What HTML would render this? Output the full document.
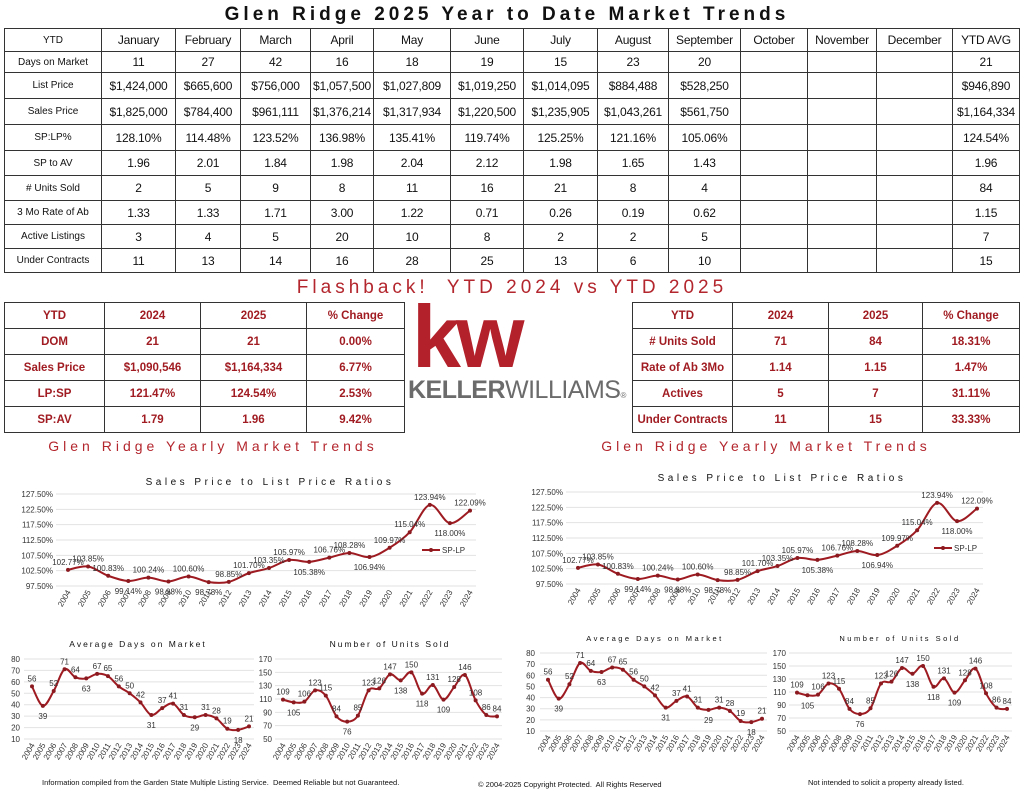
<!DOCTYPE html>
<html><head><meta charset="utf-8">
<style>
*{margin:0;padding:0;box-sizing:border-box}
body{width:1024px;height:791px;background:#fff;position:relative;overflow:hidden;font-family:"Liberation Sans",sans-serif;color:#111}
.abs{position:absolute}
table{border-collapse:collapse;position:absolute;table-layout:fixed}
td{border:1.5px solid #333;text-align:center;font-size:12px;padding:0;white-space:nowrap;overflow:hidden}
#top td{font-size:12px;letter-spacing:-0.2px}
#top td:first-child{font-size:10px;letter-spacing:0}
.red td{color:#a01c22;font-weight:bold;font-size:11.5px}
.title{font-size:19px;letter-spacing:4px;font-weight:bold;text-align:center}
.rt{color:#b3262d;letter-spacing:4px;text-align:center}
</style></head><body>
<div class="abs title" style="left:0;top:4px;width:1014px">Glen Ridge 2025 Year to Date Market Trends</div>

<table id="top" style="left:4px;top:28px;width:1015px">
<colgroup><col style="width:97px"><col style="width:74px"><col style="width:65px"><col style="width:70px"><col style="width:63px"><col style="width:77px"><col style="width:73px"><col style="width:74px"><col style="width:71px"><col style="width:72px"><col style="width:67px"><col style="width:69px"><col style="width:76px"><col style="width:67px"></colgroup>
<tr style="height:23px"><td>YTD</td><td>January</td><td>February</td><td>March</td><td>April</td><td>May</td><td>June</td><td>July</td><td>August</td><td>September</td><td>October</td><td>November</td><td>December</td><td>YTD AVG</td></tr>
<tr style="height:21px"><td>Days on Market</td><td>11</td><td>27</td><td>42</td><td>16</td><td>18</td><td>19</td><td>15</td><td>23</td><td>20</td><td></td><td></td><td></td><td>21</td></tr>
<tr style="height:26px"><td>List Price</td><td>$1,424,000</td><td>$665,600</td><td>$756,000</td><td>$1,057,500</td><td>$1,027,809</td><td>$1,019,250</td><td>$1,014,095</td><td>$884,488</td><td>$528,250</td><td></td><td></td><td></td><td>$946,890</td></tr>
<tr style="height:26px"><td>Sales Price</td><td>$1,825,000</td><td>$784,400</td><td>$961,111</td><td>$1,376,214</td><td>$1,317,934</td><td>$1,220,500</td><td>$1,235,905</td><td>$1,043,261</td><td>$561,750</td><td></td><td></td><td></td><td>$1,164,334</td></tr>
<tr style="height:26px"><td>SP:LP%</td><td>128.10%</td><td>114.48%</td><td>123.52%</td><td>136.98%</td><td>135.41%</td><td>119.74%</td><td>125.25%</td><td>121.16%</td><td>105.06%</td><td></td><td></td><td></td><td>124.54%</td></tr>
<tr style="height:25px"><td>SP to AV</td><td>1.96</td><td>2.01</td><td>1.84</td><td>1.98</td><td>2.04</td><td>2.12</td><td>1.98</td><td>1.65</td><td>1.43</td><td></td><td></td><td></td><td>1.96</td></tr>
<tr style="height:25px"><td># Units Sold</td><td>2</td><td>5</td><td>9</td><td>8</td><td>11</td><td>16</td><td>21</td><td>8</td><td>4</td><td></td><td></td><td></td><td>84</td></tr>
<tr style="height:24px"><td>3 Mo Rate of Ab</td><td>1.33</td><td>1.33</td><td>1.71</td><td>3.00</td><td>1.22</td><td>0.71</td><td>0.26</td><td>0.19</td><td>0.62</td><td></td><td></td><td></td><td>1.15</td></tr>
<tr style="height:24px"><td>Active Listings</td><td>3</td><td>4</td><td>5</td><td>20</td><td>10</td><td>8</td><td>2</td><td>2</td><td>5</td><td></td><td></td><td></td><td>7</td></tr>
<tr style="height:24px"><td>Under Contracts</td><td>11</td><td>13</td><td>14</td><td>16</td><td>28</td><td>25</td><td>13</td><td>6</td><td>10</td><td></td><td></td><td></td><td>15</td></tr>
</table>

<div class="abs rt" style="left:0;top:277px;width:1024px;font-size:19px">Flashback!&nbsp; YTD 2024 vs YTD 2025</div>

<table class="red" style="left:4px;top:302px;width:400px">
<colgroup><col style="width:100px"><col style="width:96px"><col style="width:106px"><col style="width:98px"></colgroup>
<tr style="height:26px"><td>YTD</td><td>2024</td><td>2025</td><td>% Change</td></tr>
<tr style="height:26px"><td>DOM</td><td>21</td><td>21</td><td>0.00%</td></tr>
<tr style="height:26px"><td>Sales Price</td><td>$1,090,546</td><td>$1,164,334</td><td>6.77%</td></tr>
<tr style="height:26px"><td>LP:SP</td><td>121.47%</td><td>124.54%</td><td>2.53%</td></tr>
<tr style="height:26px"><td>SP:AV</td><td>1.79</td><td>1.96</td><td>9.42%</td></tr>
</table>

<div class="abs" style="left:406px;top:300px;width:225px;height:115px">
<div style="position:absolute;left:6px;top:-14px;font-size:88px;font-weight:bold;color:#b3212b;letter-spacing:-5px;font-family:'Liberation Sans',sans-serif">kw</div>
<div style="position:absolute;left:2px;top:76px;font-size:25px;color:#6b6b6b;letter-spacing:-0.5px"><b style="font-weight:bold">KELLER</b>WILLIAMS<span style="font-size:8px">®</span></div>
</div>

<table class="red" style="left:632px;top:302px;width:387px">
<colgroup><col style="width:100px"><col style="width:96px"><col style="width:94px"><col style="width:97px"></colgroup>
<tr style="height:26px"><td>YTD</td><td>2024</td><td>2025</td><td>% Change</td></tr>
<tr style="height:26px"><td># Units Sold</td><td>71</td><td>84</td><td>18.31%</td></tr>
<tr style="height:26px"><td>Rate of Ab 3Mo</td><td>1.14</td><td>1.15</td><td>1.47%</td></tr>
<tr style="height:26px"><td>Actives</td><td>5</td><td>7</td><td>31.11%</td></tr>
<tr style="height:26px"><td>Under Contracts</td><td>11</td><td>15</td><td>33.33%</td></tr>
</table>

<div class="abs rt" style="left:0;top:438px;width:426px;font-size:14px">Glen Ridge Yearly Market Trends</div>
<div class="abs rt" style="left:553px;top:438px;width:426px;font-size:14px">Glen Ridge Yearly Market Trends</div>

<svg id="charts" class="abs" style="left:0;top:0" width="1024" height="791"></svg>

<div class="abs" style="left:42px;top:778px;font-size:7.5px">Information compiled from the Garden State Multiple Listing Service.&nbsp; Deemed Reliable but not Guaranteed.</div>
<div class="abs" style="left:478px;top:780px;font-size:7.5px">© 2004-2025 Copyright Protected.&nbsp; All Rights Reserved</div>
<div class="abs" style="left:808px;top:778px;font-size:7.5px">Not intended to solicit a property already listed.</div>

<script>
const years = ["2004","2005","2006","2007","2008","2009","2010","2011","2012","2013","2014","2015","2016","2017","2018","2019","2020","2021","2022","2023","2024"];
const spLpValues = [102.77,103.85,100.83,99.14,100.24,98.98,100.60,98.78,98.85,101.70,103.35,105.97,105.38,106.76,108.28,106.94,109.97,115.04,123.94,118.00,122.09];
const domValues = [56,39,52,71,64,63,67,65,56,50,42,31,37,41,31,29,31,28,19,18,21];
const unitsValues = [109,105,106,123,115,84,76,85,123,126,147,138,150,118,131,109,128,146,108,86,84];
const spLpTicks = [97.5,102.5,107.5,112.5,117.5,122.5,127.5];
const domTicks = [10,20,30,40,50,60,70,80];
const unitsTicks = [50,70,90,110,130,150,170];

const svg = document.getElementById('charts');
const NS = 'http://www.w3.org/2000/svg';
function mk(tag, attrs, parent){const e=document.createElementNS(NS,tag);for(const k in attrs)e.setAttribute(k,attrs[k]);(parent||svg).appendChild(e);return e;}

function drawChart(c, vals, ticks, fmt, valFmt, name){
  const g = mk('g',{});
  
  
  const min=ticks[0], max=ticks[ticks.length-1];
  const xs = i => c.x0 + (c.x1-c.x0)*i/(vals.length-1);
  const ys = v => c.yB - (c.yB-c.yT)*(v-min)/(max-min);
  const t = mk('text',{x:c.tx,y:c.ty,'text-anchor':'middle','font-size':c.tfs,'letter-spacing':c.tls,fill:'#111'},g);
  t.textContent=c.title;
  
  
  ticks.forEach(v=>{
    const y=ys(v);
    const gl = mk('line',{x1:c.gx0,x2:c.gx1,y1:y,y2:y,stroke:'#e2e2e2','stroke-width':1},g);
    
    
    const tl = mk('text',{x:c.lx,y:y+3,'text-anchor':'end','font-size':c.fs,fill:'#333'},g);
    tl.textContent=fmt(v);
    
    
  });
  years.forEach((yr,i)=>{
    const x=xs(i), y=c.yB+6;
    const xl = mk('text',{x:x+3,y:y,'text-anchor':'end','font-size':c.fs,fill:'#333',transform:`rotate(-60 ${x+3} ${y})`},g);
    xl.textContent=yr;
    
    
  });
  const P = vals.map((v,i)=>[xs(i),ys(v)]);
  let d=`M${P[0][0]},${P[0][1]}`;
  for(let i=0;i<P.length-1;i++){
    const p0=P[Math.max(0,i-1)],p1=P[i],p2=P[i+1],p3=P[Math.min(P.length-1,i+2)];
    d+=` C${p1[0]+(p2[0]-p0[0])/6},${p1[1]+(p2[1]-p0[1])/6} ${p2[0]-(p3[0]-p1[0])/6},${p2[1]-(p3[1]-p1[1])/6} ${p2[0]},${p2[1]}`;
  }
  const line = mk('path',{d:d,fill:'none',stroke:'#9e1b22','stroke-width':2},g);
  
  
  P.forEach((p,i)=>{
    const pt = mk('circle',{cx:p[0],cy:p[1],r:2,fill:'#8a1a1f'},g);
    
    
    const prev = vals[Math.max(0,i-1)], next = vals[Math.min(vals.length-1,i+1)];
    const isMin = vals[i] < prev && vals[i] < next;
    const lb = mk('text',{x:p[0],y:isMin?p[1]+c.fs+5:p[1]-5,'text-anchor':'middle','font-size':c.fs,fill:'#333'},g);
    lb.textContent=valFmt(vals[i]);
    
    
  });
  if(c.legend){
    const lg = mk('g',{},g);
    
    
    mk('line',{x1:c.legend[0],x2:c.legend[0]+18,y1:c.legend[1],y2:c.legend[1],stroke:'#9e1b22','stroke-width':2},lg);
    mk('circle',{cx:c.legend[0]+9,cy:c.legend[1],r:2,fill:'#8a1a1f'},lg);
    const lt = mk('text',{x:c.legend[0]+20,y:c.legend[1]+3,'font-size':c.fs,fill:'#333'},lg);
    lt.textContent='SP-LP';
  }
}
const pct = v=>v.toFixed(2)+'%';
const num = v=>String(v);
drawChart({x0:68,x1:470,yT:494,yB:586,gx0:56,gx1:476,lx:53,fs:8,title:'Sales Price to List Price Ratios',tx:270,ty:485,tfs:10,tls:3.5,legend:[422,550]}, spLpValues, spLpTicks, pct, pct, 'sp-lp-chart-left');
drawChart({x0:578,x1:977,yT:492,yB:584,gx0:566,gx1:983,lx:563,fs:8,title:'Sales Price to List Price Ratios',tx:782,ty:481,tfs:10,tls:3.5,legend:[934,548]}, spLpValues, spLpTicks, pct, pct, 'sp-lp-chart-right');
drawChart({x0:32,x1:249,yT:659,yB:739,gx0:24,gx1:254,lx:20,fs:8,title:'Average Days on Market',tx:138,ty:647,tfs:8.5,tls:2,legend:null}, domValues, domTicks, num, num, 'days-on-market-chart-left');
drawChart({x0:283,x1:497,yT:659,yB:739,gx0:275,gx1:502,lx:272,fs:8,title:'Number of Units Sold',tx:390,ty:647,tfs:8.5,tls:2,legend:null}, unitsValues, unitsTicks, num, num, 'units-sold-chart-left');
drawChart({x0:548,x1:762,yT:653,yB:731,gx0:540,gx1:767,lx:535,fs:8,title:'Average Days on Market',tx:655,ty:641,tfs:7.5,tls:2.5,legend:null}, domValues, domTicks, num, num, 'days-on-market-chart-right');
drawChart({x0:797,x1:1007,yT:653,yB:731,gx0:789,gx1:1012,lx:786,fs:8,title:'Number of Units Sold',tx:900,ty:641,tfs:7.5,tls:2.5,legend:null}, unitsValues, unitsTicks, num, num, 'units-sold-chart-right');
</script>
</body></html>
